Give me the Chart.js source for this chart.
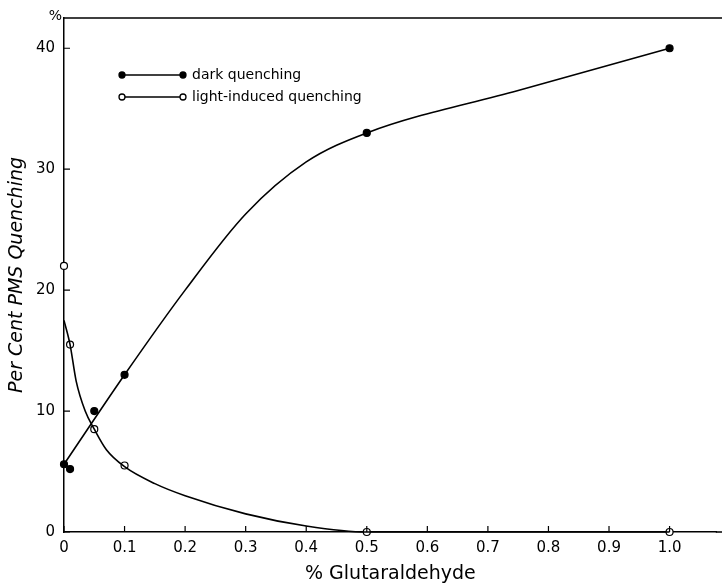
<!DOCTYPE html>
<html>
<head>
<meta charset="utf-8">
<script src="https://cdn.jsdelivr.net/npm/chart.js@4.4.0/dist/chart.umd.min.js"></script>
<style>
  html, body { margin: 0; padding: 0; background: #fff; }
  #wrap { width: 722px; height: 585px; }
</style>
</head>
<body>
<div id="wrap"><canvas id="quenchChart"></canvas></div>
<script>
// measured points
const darkX = [0, 0.01, 0.05, 0.1, 0.5, 1.0];
const darkY = [5.6, 5.2, 10, 13, 33, 40];
const lightX = [0, 0.01, 0.05, 0.1, 0.5, 1.0];
const lightY = [22, 15.5, 8.5, 5.5, 0, 0];

// hand-drawn fitted curves
const darkFitX = [0, 0.1, 0.2, 0.3, 0.4, 0.5, 0.75, 1.0];
const darkFitY = [5.6, 13, 20, 26.3, 30.6, 33, 36.5, 40];
const lightFitX = [0, 0.01, 0.02, 0.035, 0.05, 0.07, 0.1, 0.15, 0.2, 0.3, 0.4, 0.5, 1.0];
const lightFitY = [17.5, 15.5, 12.5, 10, 8.5, 6.8, 5.4, 4.0, 3.0, 1.5, 0.5, 0, 0];

const xTicks = [0, 0.1, 0.2, 0.3, 0.4, 0.5, 0.6, 0.7, 0.8, 0.9, 1.0];
const yTicks = [0, 10, 20, 30, 40];

const toPts = (xs, ys) => xs.map((x, i) => ({ x: x, y: ys[i] }));

const FONT = '"DejaVu Sans", sans-serif';

// inward ticks, top border, "%" mark and the in-plot legend
const decor = {
    id: 'decor',
    afterDraw(chart) {
        const c = chart.ctx;
        const area = chart.chartArea;
        const xs = chart.scales.x, ys = chart.scales.y;
        c.save();
        c.strokeStyle = '#000';
        c.lineWidth = 1.2;
        c.beginPath();
        xTicks.forEach(v => {
            const px = xs.getPixelForValue(v);
            c.moveTo(px, area.bottom);
            c.lineTo(px, area.bottom - 6);
        });
        yTicks.forEach(v => {
            const py = ys.getPixelForValue(v);
            c.moveTo(area.left, py);
            c.lineTo(area.left + 6, py);
        });
        c.stroke();

        // frame lines run to the page edge
        c.lineWidth = 1.5;
        c.beginPath();
        c.moveTo(area.left, area.top);
        c.lineTo(chart.width, area.top);
        c.moveTo(area.right - 1, area.bottom);
        c.lineTo(chart.width, area.bottom);
        c.stroke();

        c.fillStyle = '#000';
        c.font = '14px ' + FONT;
        c.textAlign = 'right';
        c.textBaseline = 'bottom';
        c.fillText('%', area.left - 2, area.top + 5);

        // legend
        const items = [chart.data.datasets[2], chart.data.datasets[3]];
        c.font = '14px ' + FONT;
        c.textAlign = 'left';
        c.textBaseline = 'middle';
        items.forEach((ds, i) => {
            const y = 75 + i * 22;
            const x0 = 122, x1 = 183;
            c.lineWidth = 1.3;
            c.beginPath();
            c.moveTo(x0, y);
            c.lineTo(x1, y);
            c.stroke();
            [x0, x1].forEach(x => {
                c.beginPath();
                c.arc(x, y, 3, 0, Math.PI * 2);
                c.fillStyle = ds.backgroundColor;
                c.fill();
                c.stroke();
            });
            c.fillStyle = '#000';
            c.fillText(ds.label, 192, y);
        });
        c.restore();
    }
};

const ctx = document.getElementById('quenchChart').getContext('2d');

new Chart(ctx, {
    type: 'scatter',
    data: {
        datasets: [
            {
                label: 'dark fit',
                data: toPts(darkFitX, darkFitY),
                showLine: true,
                borderColor: '#000',
                borderWidth: 1.6,
                pointRadius: 0,
                cubicInterpolationMode: 'monotone',
                clip: false
            },
            {
                label: 'light fit',
                data: toPts(lightFitX, lightFitY),
                showLine: true,
                borderColor: '#000',
                borderWidth: 1.6,
                pointRadius: 0,
                cubicInterpolationMode: 'monotone',
                clip: false
            },
            {
                label: 'dark quenching',
                data: toPts(darkX, darkY),
                showLine: false,
                backgroundColor: '#000',
                borderColor: '#000',
                borderWidth: 1.2,
                pointRadius: 3.5,
                clip: false
            },
            {
                label: 'light-induced quenching',
                data: toPts(lightX, lightY),
                showLine: false,
                backgroundColor: '#fff',
                borderColor: '#000',
                borderWidth: 1.2,
                pointRadius: 3.5,
                clip: false
            }
        ]
    },
    options: {
        responsive: true,
        maintainAspectRatio: false,
        animation: false,
        layout: { padding: { top: 14, right: 0, left: 0, bottom: 0 } },
        plugins: {
            legend: { display: false },
            tooltip: { enabled: false }
        },
        scales: {
            x: {
                type: 'linear',
                min: 0,
                max: 1.078,
                afterBuildTicks: s => { s.ticks = xTicks.map(v => ({ value: v })); },
                afterFit: s => { s.height = 53; },
                grid: { drawOnChartArea: false, drawTicks: false },
                border: { color: '#000', width: 1.5 },
                ticks: {
                    color: '#000',
                    padding: 7,
                    maxRotation: 0,
                    font: { family: FONT, size: 15 },
                    callback: v => (v === 0 ? '0' : v.toFixed(1))
                },
                title: {
                    display: true,
                    text: '% Glutaraldehyde',
                    color: '#000',
                    font: { family: FONT, size: 19 },
                    padding: { top: 0, bottom: 0 }
                }
            },
            y: {
                min: 0,
                max: 42.5,
                afterBuildTicks: s => { s.ticks = yTicks.map(v => ({ value: v })); },
                afterFit: s => { s.width = 64; },
                grid: { drawOnChartArea: false, drawTicks: false },
                border: { color: '#000', width: 1.5 },
                ticks: {
                    color: '#000',
                    padding: 9,
                    font: { family: FONT, size: 15 }
                },
                title: {
                    display: true,
                    text: 'Per Cent PMS Quenching',
                    color: '#000',
                    font: { family: FONT, size: 19, style: 'italic' },
                    padding: { top: 6, bottom: 0 }
                }
            }
        }
    },
    plugins: [decor]
});
</script>
</body>
</html>
